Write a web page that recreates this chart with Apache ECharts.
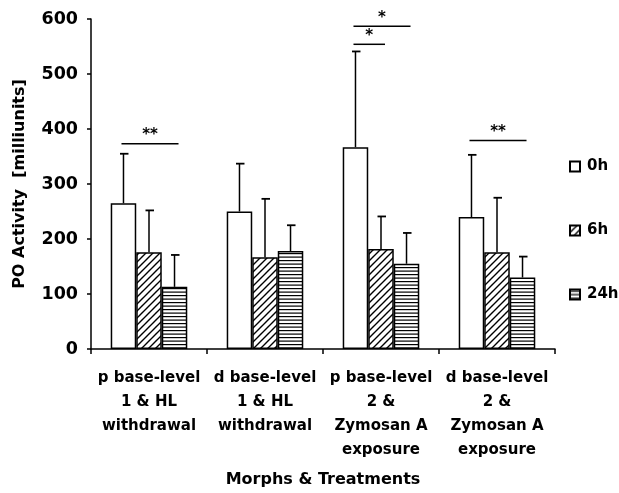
<!DOCTYPE html>
<html><head><meta charset="utf-8">
<script src="https://cdn.jsdelivr.net/npm/echarts@6/dist/echarts.min.js"></script>
<style>html,body{margin:0;padding:0;background:#fff}#c{width:619px;height:493px}</style>
</head><body><div id="c"></div>
<script>
// ---- data ----
const categories = ['p base-level\n1 & HL\nwithdrawal', 'd base-level\n1 & HL\nwithdrawal', 'p base-level\n2 &\nZymosan A\nexposure', 'd base-level\n2 &\nZymosan A\nexposure'];
const seriesNames = ['0h', '6h', '24h'];
const mean0h = [265, 250, 367, 240];
const mean6h = [176, 167, 182, 176];
const mean24h = [113, 178, 155, 130];
const upper0h = [355, 337, 541, 353];
const upper6h = [252, 273, 241, 275];
const upper24h = [171, 225, 211, 168];
const yTicks = [0, 100, 200, 300, 400, 500, 600];
const bracketCats = [0, 2, 2, 3];
const bracketFrom = [0, 0, 0, 0];
const bracketTo = [2, 1, 2, 2];
const bracketLevels = [373, 554, 587, 379];
const bracketLabels = ['**', '*', '*', '**'];

// ---- styles ----
const FONT = 'DejaVu Sans';
const GAP = 0.34;
function pattern(kind) {
  const c = document.createElement('canvas');
  const g = c.getContext('2d');
  if (kind === 'diag') {
    c.width = 7; c.height = 7;
    g.fillStyle = '#fff'; g.fillRect(0, 0, 7, 7);
    g.strokeStyle = '#000'; g.lineWidth = 1.4;
    g.beginPath();
    g.moveTo(-1, 8); g.lineTo(8, -1);
    g.moveTo(-1, 1); g.lineTo(1, -1);
    g.moveTo(6, 8); g.lineTo(8, 6);
    g.stroke();
  } else {
    c.width = 8; c.height = 7;
    g.fillStyle = '#fff'; g.fillRect(0, 0, 8, 7);
    g.fillStyle = '#000';
    g.fillRect(0, 1, 8, 1.2);
    g.fillRect(0, 4.5, 8, 1.2);
  }
  return { image: c, repeat: 'repeat' };
}
const fills = ['#ffffff', pattern('diag'), pattern('horiz')];
const means = [mean0h, mean6h, mean24h];
const uppers = [upper0h, upper6h, upper24h];

const barSeries = seriesNames.map((n, s) => ({
  name: n, type: 'bar', data: means[s],
  barGap: '0%', barCategoryGap: (GAP * 100) + '%',
  itemStyle: { color: fills[s], borderColor: '#000', borderWidth: 1.5 },
  emphasis: { disabled: true }, z: 2
}));

const errSeries = seriesNames.map((n, s) => ({
  type: 'custom', coordinateSystem: 'cartesian2d', z: 3, silent: true,
  data: means[s].map((m, i) => [i, m, uppers[s][i]]),
  renderItem: function (params, api) {
    const i = api.value(0);
    const catW = api.size([1, 0])[0];
    const bw = catW * (1 - GAP) / 3;
    const base = api.coord([i, api.value(1)]);
    const top = api.coord([i, api.value(2)]);
    const x = base[0] + (s - 1) * bw;
    return {
      type: 'group', children: [
        { type: 'line', shape: { x1: x, y1: base[1], x2: x, y2: top[1] }, style: { stroke: '#000', lineWidth: 1.5 } },
        { type: 'line', shape: { x1: x - 3.5, y1: top[1], x2: x + 5, y2: top[1] }, style: { stroke: '#000', lineWidth: 1.8 } }
      ]
    };
  }
}));

const bracketSeries = {
  type: 'custom', coordinateSystem: 'cartesian2d', z: 4, silent: true,
  data: bracketCats.map((c, k) => [c, bracketLevels[k], bracketFrom[k], bracketTo[k], k]),
  renderItem: function (params, api) {
    const i = api.value(0);
    const catW = api.size([1, 0])[0];
    const bw = catW * (1 - GAP) / 3;
    const p = api.coord([i, api.value(1)]);
    const x1 = p[0] + (api.value(2) - 1) * bw - 2;
    const x2 = p[0] + (api.value(3) - 1) * bw + 4;
    const k = api.value(4);
    return {
      type: 'group', children: [
        { type: 'line', shape: { x1: x1, y1: p[1], x2: x2, y2: p[1] }, style: { stroke: '#000', lineWidth: 1.5 } },
        { type: 'text', style: { x: (x1 + x2) / 2, y: p[1] - 1, text: bracketLabels[k], textAlign: 'center', textVerticalAlign: 'bottom', font: 'bold 15px "' + FONT + '"', fill: '#000' } }
      ]
    };
  }
};

const chart = echarts.init(document.getElementById('c'), null, { renderer: 'canvas' });
chart.setOption({
  animation: false,
  backgroundColor: '#fff',
  grid: { left: 91, right: 64, top: 19, bottom: 141, containLabel: false },
  legend: {
    data: seriesNames.map(n => ({ name: n, icon: 'rect' })), orient: 'vertical', left: 569, top: 159, padding: 0,
    itemWidth: 10, itemHeight: 10, itemGap: 49, selectedMode: false,
    textStyle: { fontFamily: FONT, fontWeight: 'bold', fontSize: 15, color: '#000', padding: [0, 0, 0, 2] }
  },
  xAxis: {
    type: 'category', data: categories,
    axisLine: { lineStyle: { color: '#000', width: 1.5 } },
    axisTick: { show: true, length: 5, lineStyle: { color: '#000', width: 1.5 } },
    axisLabel: { interval: 0, color: '#000', fontFamily: FONT, fontWeight: 'bold', fontSize: 15, lineHeight: 24, margin: 17 },
    name: 'Morphs & Treatments', nameLocation: 'middle', nameGap: 123,
    nameTextStyle: { fontFamily: FONT, fontWeight: 'bold', fontSize: 16, color: '#000' }
  },
  yAxis: {
    type: 'value', min: yTicks[0], max: yTicks[yTicks.length - 1], interval: yTicks[1] - yTicks[0],
    axisLine: { show: true, lineStyle: { color: '#000', width: 1.5 } },
    axisTick: { show: true, length: 4, lineStyle: { color: '#000', width: 1.5 } },
    splitLine: { show: false },
    axisLabel: { color: '#000', fontFamily: FONT, fontWeight: 'bold', fontSize: 17.5, margin: 13 },
    name: 'PO Activity  [milliunits]', nameLocation: 'middle', nameGap: 63, nameRotate: 90,
    nameTextStyle: { fontFamily: FONT, fontWeight: 'bold', fontSize: 16, color: '#000' }
  },
  series: [...barSeries, ...errSeries, bracketSeries]
});
</script></body></html>
